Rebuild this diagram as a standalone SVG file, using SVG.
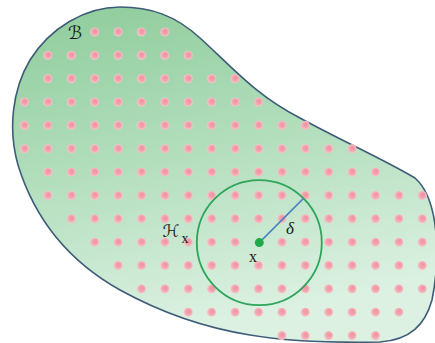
<svg xmlns="http://www.w3.org/2000/svg" xmlns:xlink="http://www.w3.org/1999/xlink" width="435" height="343" viewBox="0 0 435 343">
<style>
.d{fill:url(#pk);}
.lbl{font-family:"DejaVu Sans","Liberation Serif",serif;fill:#1a1a1a;}
.rm{font-family:"Liberation Serif","DejaVu Serif",serif;fill:#1a1a1a;}
</style>
<defs>
<linearGradient id="bg" x1="0" y1="0" x2="0.25" y2="1">
<stop offset="0" stop-color="#8ecc9b"/>
<stop offset="0.5" stop-color="#b2debc"/>
<stop offset="1" stop-color="#dcf1e2"/>
</linearGradient>
<radialGradient id="pk" cx="0.5" cy="0.5" r="0.5" fx="0.6" fy="0.38">
<stop offset="0" stop-color="#f0909f"/>
<stop offset="0.55" stop-color="#f3a3b0"/>
<stop offset="0.85" stop-color="#f5bfc4"/>
<stop offset="1" stop-color="#f3c6c6" stop-opacity="0.3"/>
</radialGradient>
<circle id="dt" r="4.8" class="d"/>
</defs>
<g id="region-B">
<path d="M120,7 C150,7 175,15 200,38 C230,65 255,95 300,118 C340,140 385,160 415,178 C440,200 440,260 432,300 C425,325 410,340 380,342 C330,343 280,340 250,335 C200,327 160,312 120,290 C70,262 35,220 18,165 C8,130 12,90 30,60 C50,28 85,7 120,7 Z" fill="url(#bg)" stroke="#3d5c78" stroke-width="1.6"/>
</g>
<g id="dots">
<use xlink:href="#dt" x="94.6" y="32"/><use xlink:href="#dt" x="118" y="32"/><use xlink:href="#dt" x="141.4" y="32"/><use xlink:href="#dt" x="164.8" y="32"/>
<use xlink:href="#dt" x="47.8" y="55.4"/><use xlink:href="#dt" x="71.2" y="55.4"/><use xlink:href="#dt" x="94.6" y="55.4"/><use xlink:href="#dt" x="118" y="55.4"/><use xlink:href="#dt" x="141.4" y="55.4"/><use xlink:href="#dt" x="164.8" y="55.4"/><use xlink:href="#dt" x="188.2" y="55.4"/>
<use xlink:href="#dt" x="47.8" y="78.7"/><use xlink:href="#dt" x="71.2" y="78.7"/><use xlink:href="#dt" x="94.6" y="78.7"/><use xlink:href="#dt" x="118" y="78.7"/><use xlink:href="#dt" x="141.4" y="78.7"/><use xlink:href="#dt" x="164.8" y="78.7"/><use xlink:href="#dt" x="188.2" y="78.7"/><use xlink:href="#dt" x="211.6" y="78.7"/><use xlink:href="#dt" x="235" y="78.7"/>
<use xlink:href="#dt" x="24.4" y="102.1"/><use xlink:href="#dt" x="47.8" y="102.1"/><use xlink:href="#dt" x="71.2" y="102.1"/><use xlink:href="#dt" x="94.6" y="102.1"/><use xlink:href="#dt" x="118" y="102.1"/><use xlink:href="#dt" x="141.4" y="102.1"/><use xlink:href="#dt" x="164.8" y="102.1"/><use xlink:href="#dt" x="188.2" y="102.1"/><use xlink:href="#dt" x="211.6" y="102.1"/><use xlink:href="#dt" x="235" y="102.1"/><use xlink:href="#dt" x="258.4" y="102.1"/>
<use xlink:href="#dt" x="24.4" y="125.4"/><use xlink:href="#dt" x="47.8" y="125.4"/><use xlink:href="#dt" x="71.2" y="125.4"/><use xlink:href="#dt" x="94.6" y="125.4"/><use xlink:href="#dt" x="118" y="125.4"/><use xlink:href="#dt" x="141.4" y="125.4"/><use xlink:href="#dt" x="164.8" y="125.4"/><use xlink:href="#dt" x="188.2" y="125.4"/><use xlink:href="#dt" x="211.6" y="125.4"/><use xlink:href="#dt" x="235" y="125.4"/><use xlink:href="#dt" x="258.4" y="125.4"/><use xlink:href="#dt" x="281.8" y="125.4"/><use xlink:href="#dt" x="305.2" y="125.4"/>
<use xlink:href="#dt" x="24.4" y="148.8"/><use xlink:href="#dt" x="47.8" y="148.8"/><use xlink:href="#dt" x="71.2" y="148.8"/><use xlink:href="#dt" x="94.6" y="148.8"/><use xlink:href="#dt" x="118" y="148.8"/><use xlink:href="#dt" x="141.4" y="148.8"/><use xlink:href="#dt" x="164.8" y="148.8"/><use xlink:href="#dt" x="188.2" y="148.8"/><use xlink:href="#dt" x="211.6" y="148.8"/><use xlink:href="#dt" x="235" y="148.8"/><use xlink:href="#dt" x="258.4" y="148.8"/><use xlink:href="#dt" x="281.8" y="148.8"/><use xlink:href="#dt" x="305.2" y="148.8"/><use xlink:href="#dt" x="328.6" y="148.8"/><use xlink:href="#dt" x="352" y="148.8"/>
<use xlink:href="#dt" x="47.8" y="172.1"/><use xlink:href="#dt" x="71.2" y="172.1"/><use xlink:href="#dt" x="94.6" y="172.1"/><use xlink:href="#dt" x="118" y="172.1"/><use xlink:href="#dt" x="141.4" y="172.1"/><use xlink:href="#dt" x="164.8" y="172.1"/><use xlink:href="#dt" x="188.2" y="172.1"/><use xlink:href="#dt" x="211.6" y="172.1"/><use xlink:href="#dt" x="235" y="172.1"/><use xlink:href="#dt" x="258.4" y="172.1"/><use xlink:href="#dt" x="281.8" y="172.1"/><use xlink:href="#dt" x="305.2" y="172.1"/><use xlink:href="#dt" x="328.6" y="172.1"/><use xlink:href="#dt" x="352" y="172.1"/><use xlink:href="#dt" x="375.4" y="172.1"/>
<use xlink:href="#dt" x="47.8" y="195.5"/><use xlink:href="#dt" x="71.2" y="195.5"/><use xlink:href="#dt" x="94.6" y="195.5"/><use xlink:href="#dt" x="118" y="195.5"/><use xlink:href="#dt" x="141.4" y="195.5"/><use xlink:href="#dt" x="164.8" y="195.5"/><use xlink:href="#dt" x="188.2" y="195.5"/><use xlink:href="#dt" x="211.6" y="195.5"/><use xlink:href="#dt" x="235" y="195.5"/><use xlink:href="#dt" x="258.4" y="195.5"/><use xlink:href="#dt" x="281.8" y="195.5"/><use xlink:href="#dt" x="305.2" y="195.5"/><use xlink:href="#dt" x="328.6" y="195.5"/><use xlink:href="#dt" x="352" y="195.5"/><use xlink:href="#dt" x="375.4" y="195.5"/><use xlink:href="#dt" x="398.8" y="195.5"/><use xlink:href="#dt" x="422.2" y="195.5"/>
<use xlink:href="#dt" x="71.2" y="218.8"/><use xlink:href="#dt" x="94.6" y="218.8"/><use xlink:href="#dt" x="118" y="218.8"/><use xlink:href="#dt" x="141.4" y="218.8"/><use xlink:href="#dt" x="164.8" y="218.8"/><use xlink:href="#dt" x="188.2" y="218.8"/><use xlink:href="#dt" x="211.6" y="218.8"/><use xlink:href="#dt" x="235" y="218.8"/><use xlink:href="#dt" x="258.4" y="218.8"/><use xlink:href="#dt" x="281.8" y="218.8"/><use xlink:href="#dt" x="305.2" y="218.8"/><use xlink:href="#dt" x="328.6" y="218.8"/><use xlink:href="#dt" x="352" y="218.8"/><use xlink:href="#dt" x="375.4" y="218.8"/><use xlink:href="#dt" x="398.8" y="218.8"/><use xlink:href="#dt" x="422.2" y="218.8"/>
<use xlink:href="#dt" x="94.6" y="242.2"/><use xlink:href="#dt" x="118" y="242.2"/><use xlink:href="#dt" x="141.4" y="242.2"/><use xlink:href="#dt" x="164.8" y="242.2"/><use xlink:href="#dt" x="188.2" y="242.2"/><use xlink:href="#dt" x="211.6" y="242.2"/><use xlink:href="#dt" x="235" y="242.2"/><use xlink:href="#dt" x="281.8" y="242.2"/><use xlink:href="#dt" x="305.2" y="242.2"/><use xlink:href="#dt" x="328.6" y="242.2"/><use xlink:href="#dt" x="352" y="242.2"/><use xlink:href="#dt" x="375.4" y="242.2"/><use xlink:href="#dt" x="398.8" y="242.2"/><use xlink:href="#dt" x="422.2" y="242.2"/>
<use xlink:href="#dt" x="118" y="265.5"/><use xlink:href="#dt" x="141.4" y="265.5"/><use xlink:href="#dt" x="164.8" y="265.5"/><use xlink:href="#dt" x="188.2" y="265.5"/><use xlink:href="#dt" x="211.6" y="265.5"/><use xlink:href="#dt" x="235" y="265.5"/><use xlink:href="#dt" x="258.4" y="265.5"/><use xlink:href="#dt" x="281.8" y="265.5"/><use xlink:href="#dt" x="305.2" y="265.5"/><use xlink:href="#dt" x="328.6" y="265.5"/><use xlink:href="#dt" x="352" y="265.5"/><use xlink:href="#dt" x="375.4" y="265.5"/><use xlink:href="#dt" x="398.8" y="265.5"/><use xlink:href="#dt" x="422.2" y="265.5"/>
<use xlink:href="#dt" x="141.4" y="288.9"/><use xlink:href="#dt" x="164.8" y="288.9"/><use xlink:href="#dt" x="188.2" y="288.9"/><use xlink:href="#dt" x="211.6" y="288.9"/><use xlink:href="#dt" x="235" y="288.9"/><use xlink:href="#dt" x="258.4" y="288.9"/><use xlink:href="#dt" x="281.8" y="288.9"/><use xlink:href="#dt" x="305.2" y="288.9"/><use xlink:href="#dt" x="328.6" y="288.9"/><use xlink:href="#dt" x="352" y="288.9"/><use xlink:href="#dt" x="375.4" y="288.9"/><use xlink:href="#dt" x="398.8" y="288.9"/><use xlink:href="#dt" x="422.2" y="288.9"/>
<use xlink:href="#dt" x="188.2" y="312.2"/><use xlink:href="#dt" x="211.6" y="312.2"/><use xlink:href="#dt" x="235" y="312.2"/><use xlink:href="#dt" x="258.4" y="312.2"/><use xlink:href="#dt" x="281.8" y="312.2"/><use xlink:href="#dt" x="305.2" y="312.2"/><use xlink:href="#dt" x="328.6" y="312.2"/><use xlink:href="#dt" x="352" y="312.2"/><use xlink:href="#dt" x="375.4" y="312.2"/><use xlink:href="#dt" x="398.8" y="312.2"/>
<use xlink:href="#dt" x="281.8" y="335.6"/><use xlink:href="#dt" x="305.2" y="335.6"/><use xlink:href="#dt" x="328.6" y="335.6"/><use xlink:href="#dt" x="352" y="335.6"/><use xlink:href="#dt" x="375.4" y="335.6"/>
</g>
<g id="neighborhood-H">
<circle cx="259.3" cy="242.6" r="62.5" fill="none" stroke="#2ea55a" stroke-width="1.8"/>
</g>
<g id="connectors">
<line x1="259.3" y1="242.6" x2="303.5" y2="198.4" stroke="#4a80c0" stroke-width="1.5"/>
</g>
<g id="point-x">
<circle cx="259.3" cy="242.6" r="4.5" fill="#1faa4a"/>
</g>
<g id="labels">
<text class="lbl" x="75" y="39" font-size="18" text-anchor="middle">ℬ</text>
<text class="lbl" x="171" y="237" font-size="17" text-anchor="middle">ℋ</text>
<text class="rm" x="185" y="243" font-size="14" text-anchor="middle">x</text>
<text class="rm" x="290" y="234" font-size="17" font-style="italic" text-anchor="middle">δ</text>
<text class="rm" x="253" y="262" font-size="16" text-anchor="middle">x</text>
</g>
</svg>
